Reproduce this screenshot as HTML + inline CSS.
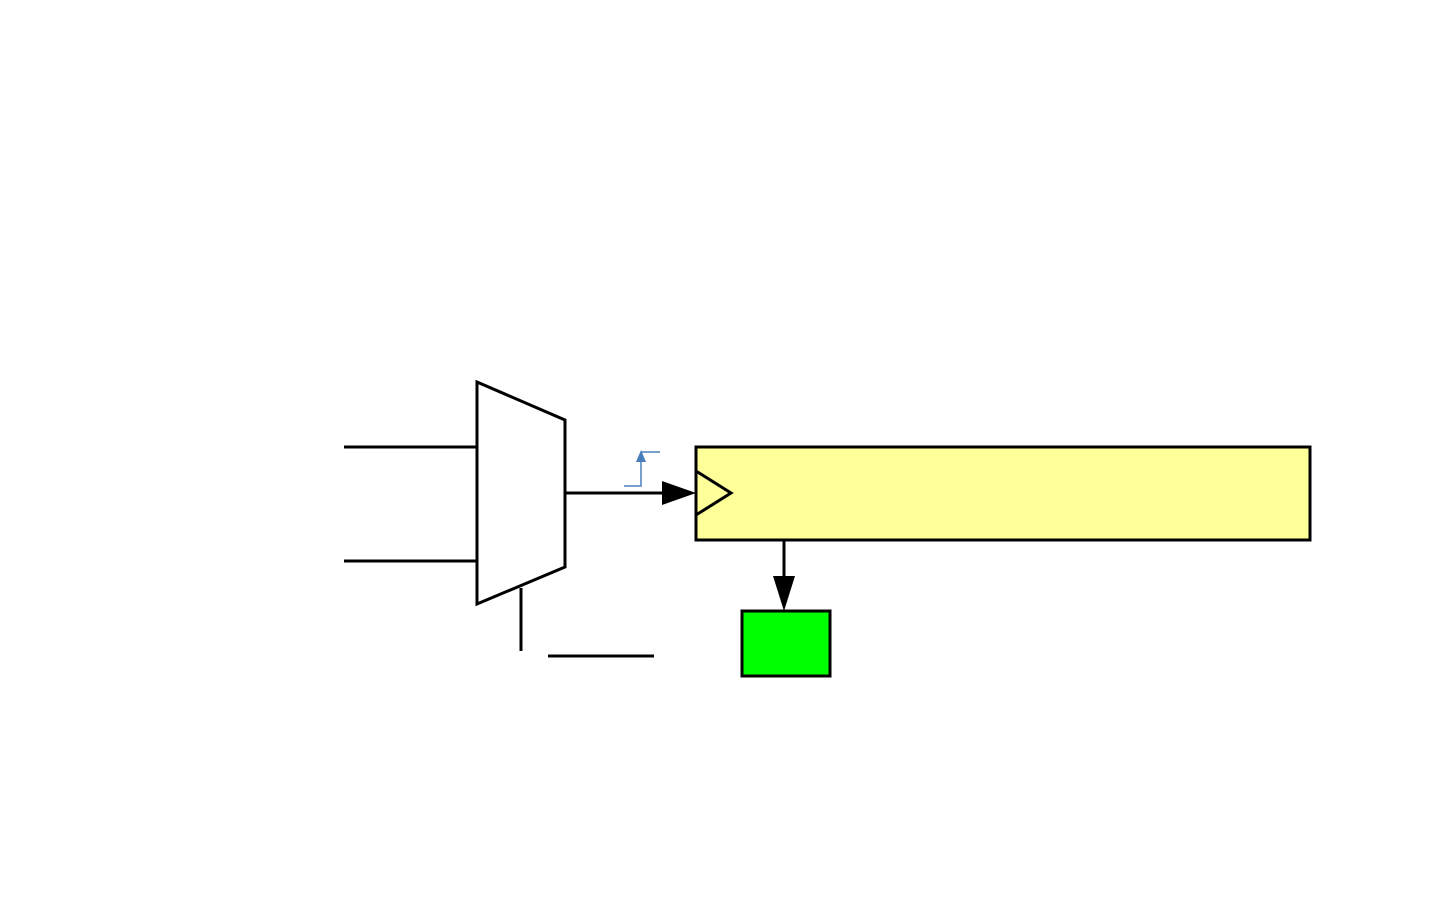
<!DOCTYPE html>
<html><head><style>html,body{margin:0;padding:0;background:#fff}svg{display:block}</style></head>
<body>
<svg width="1441" height="901" viewBox="0 0 1441 901" xmlns="http://www.w3.org/2000/svg">
<rect width="1441" height="901" fill="#fff"/>
<g stroke="#000" stroke-width="3" fill="none">
<line x1="344" y1="447" x2="477" y2="447"/>
<line x1="344" y1="561" x2="477" y2="561"/>
<polygon points="477,382 565,420 565,567 477,604" fill="#fff"/>
<line x1="521" y1="588" x2="521" y2="651"/>
<line x1="548" y1="656" x2="654" y2="656"/>
<line x1="565" y1="493" x2="665" y2="493"/>
<rect x="696" y="447" width="614" height="93" fill="#FFFF99"/>
<polyline points="696,471 731,493 696,515"/>
<line x1="784" y1="540" x2="784" y2="578"/>
<rect x="742" y="611" width="88" height="65" fill="#00FF00"/>
</g>
<polygon points="662,481 696,493 662,505" fill="#000"/>
<polygon points="773,576 795,576 784,611" fill="#000"/>
<g stroke="#4A7EBB" stroke-width="1.5" fill="none">
<polyline points="624,486 641,486 641,458"/>
<line x1="641" y1="452" x2="660" y2="452"/>
</g>
<polygon points="636,462 646,462 641,450" fill="#4A7EBB"/>
</svg>
</body></html>
